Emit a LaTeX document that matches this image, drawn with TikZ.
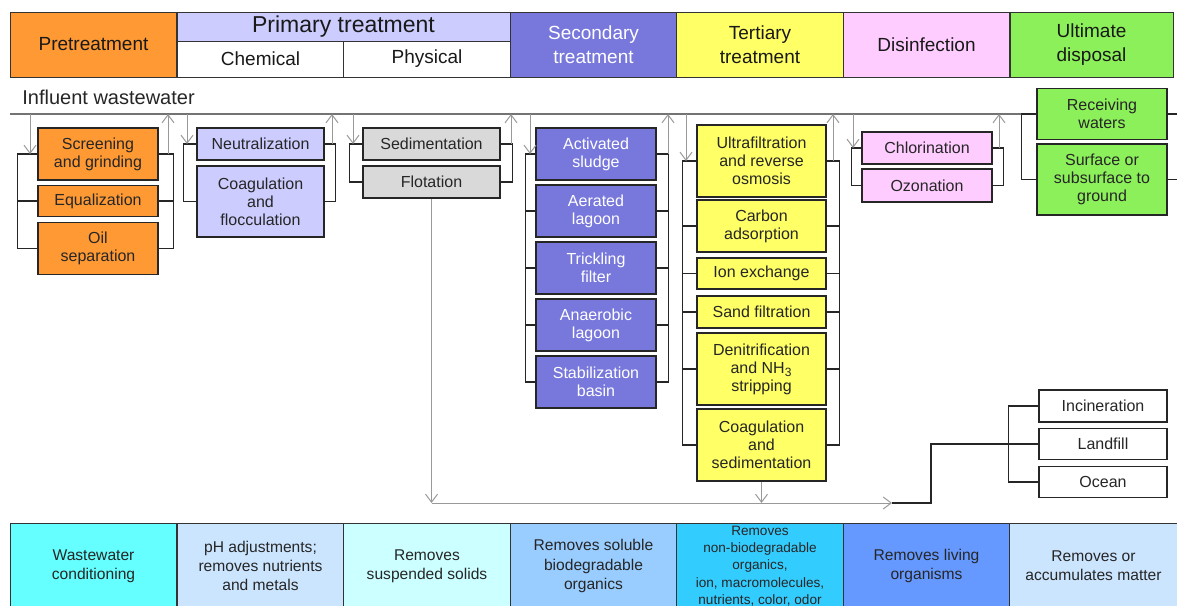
\documentclass[tikz,border=0pt]{standalone}
\usepackage{fontspec}
\setmainfont{Liberation Sans}
\usetikzlibrary{arrows.meta}

\definecolor{orng}{HTML}{FF9933}
\definecolor{lavd}{HTML}{CCCCFF}
\definecolor{gryb}{HTML}{D9D9D9}
\definecolor{purp}{HTML}{7878DC}
\definecolor{yelw}{HTML}{FFFF66}
\definecolor{pink}{HTML}{FFCCFF}
\definecolor{gren}{HTML}{8CF05A}
\definecolor{rcyan}{HTML}{66FFFF}
\definecolor{rpale}{HTML}{CCE5FF}
\definecolor{rlcyn}{HTML}{CCFFFF}
\definecolor{rsky}{HTML}{99CCFF}
\definecolor{rdeep}{HTML}{33CCFF}
\definecolor{rblue}{HTML}{6699FF}

\begin{document}
\begin{tikzpicture}[x=0.5pt,y=-0.5pt]
	\tikzset{hdr/.style = {draw=black!80, line width=0.5pt, align=center,
			inner sep=0pt, text=black!90, minimum width=83.3pt,
			font=\fontsize{9.5}{12}\selectfont}}
	\tikzset{res/.style = {hdr, minimum height=43pt, text=black!85,
			font=\fontsize{7.8}{9.6}\selectfont}}
	\tikzset{box/.style = {draw=black!85, line width=0.7pt, align=center,
			inner sep=0pt, text=black!85, font=\fontsize{8}{9}\selectfont}}
	\tikzset{preBox/.style = {box, fill=orng, minimum width=60pt}}
	\tikzset{chemBox/.style = {box, fill=lavd, minimum width=63.5pt}}
	\tikzset{physBox/.style = {box, fill=gryb, minimum width=68.5pt}}
	\tikzset{secBox/.style = {box, fill=purp, text=white, minimum width=60pt,
			minimum height=26pt}}
	\tikzset{terBox/.style = {box, fill=yelw, minimum width=64.5pt}}
	\tikzset{disBox/.style = {box, fill=pink, minimum width=65pt}}
	\tikzset{ultBox/.style = {box, fill=gren, minimum width=65pt}}
	\tikzset{sldBox/.style = {box, fill=white, minimum width=64pt}}
	\tikzset{brk/.style = {draw=black!85, line width=0.6pt}}
	\tikzset{main/.style = {draw=black!55, line width=0.9pt}}
	\tikzset{flow/.style = {draw=black!40, line width=0.5pt,
			-{Straight Barb[length=4pt,width=6pt]}}}

	\fill[white] (0,0) rectangle (1177,605);
	\useasboundingbox (0,0) rectangle (1177,605);
	\clip (0,0) rectangle (1177,605);

	% header row
	\node[hdr, fill=orng, minimum height=32.5pt] (hPre) at (93.5,44.5) {Pretreatment};
	\node[hdr, fill=lavd, minimum width=166.5pt, minimum height=14.5pt,
		font=\fontsize{11.5}{13}\selectfont] (hPri) at (343.5,26.5) {Primary treatment};
	\node[hdr, fill=white, minimum height=18pt] (hChe) at (260.5,59) {Chemical};
	\node[hdr, fill=white, minimum height=18pt] (hPhy) at (427,59) {Physical};
	\node[hdr, fill=purp, text=white, minimum height=32.5pt] (hSec) at (593.5,44.5) {Secondary\\treatment};
	\node[hdr, fill=yelw, minimum height=32.5pt] (hTer) at (760,44.5) {Tertiary\\treatment};
	\node[hdr, fill=pink, minimum height=32.5pt] (hDis) at (926.5,44.5) {Disinfection};
	\node[hdr, fill=gren, minimum width=81.5pt, minimum height=32.5pt] (hUlt) at (1091.5,44.5) {Ultimate\\disposal};

	% influent line
	\node[anchor=west, inner sep=0pt, text=black!85,
		font=\fontsize{10}{12}\selectfont] (infl) at (22,97) {Influent wastewater};
	\coordinate (inL) at (10,114);
	\coordinate (inR) at (1022,114);
	\draw[main] (inL) -- (inR);

	% units
	\node[preBox, minimum height=26pt] (scr) at (98,154) {Screening\\and grinding};
	\node[preBox, minimum height=15.5pt] (equ) at (98,201) {Equalization};
	\node[preBox, minimum height=26pt] (oil) at (98,248.5) {Oil\\separation};

	\node[chemBox, minimum height=16pt] (neu) at (260.5,144) {Neutralization};
	\node[chemBox, minimum height=35.5pt] (cof) at (260.5,201.5) {Coagulation\\and\\flocculation};

	\node[physBox, minimum height=16pt] (sed) at (431.5,144) {Sedimentation};
	\node[physBox, minimum height=16pt] (flo) at (431.5,182) {Flotation};

	\node[secBox] (act) at (596,154) {Activated\\sludge};
	\node[secBox] (aer) at (596,211) {Aerated\\lagoon};
	\node[secBox] (trf) at (596,268) {Trickling\\filter};
	\node[secBox] (ana) at (596,325) {Anaerobic\\lagoon};
	\node[secBox] (stb) at (596,382) {Stabilization\\basin};

	\node[terBox, minimum height=36pt] (ufr) at (761.5,161) {Ultrafiltration\\and reverse\\osmosis};
	\node[terBox, minimum height=26pt] (cad) at (761.5,226) {Carbon\\adsorption};
	\node[terBox, minimum height=15.5pt] (iex) at (761.5,273.5) {Ion exchange};
	\node[terBox, minimum height=16pt] (snd) at (761.5,312) {Sand filtration};
	\node[terBox, minimum height=36pt] (den) at (761.5,369) {Denitrification\\and NH\textsubscript{3}\\stripping};
	\node[terBox, minimum height=36pt] (cse) at (761.5,445) {Coagulation\\and\\sedimentation};

	\node[disBox, minimum height=16pt] (chl) at (927,148) {Chlorination};
	\node[disBox, minimum height=16.5pt] (ozo) at (927,185.5) {Ozonation};

	\node[ultBox, minimum height=25.5pt] (rcv) at (1102,114) {Receiving\\waters};
	\node[ultBox, minimum height=35.5pt] (sur) at (1102,179.5) {Surface or\\subsurface to\\ground};

	\node[sldBox, minimum height=16pt] (inc) at (1103,406) {Incineration};
	\node[sldBox, minimum height=15.5pt] (lnd) at (1103,444) {Landfill};
	\node[sldBox, minimum height=15.5pt] (ocn) at (1103,482) {Ocean};

	% brackets
	\draw[brk] (scr.west) -- ++(-20,0) |- (oil.west);
	\draw[brk] (equ.west) -- ++(-20,0);
	\draw[brk] (scr.east) -- ++(15,0) |- (oil.east);
	\draw[brk] (equ.east) -- ++(15,0);

	\draw[brk] (neu.west) -- ++(-13,0) |- (cof.west);
	\draw[brk] (neu.east) -- ++(11,0) |- (cof.east);

	\draw[brk] (sed.west) -- ++(-13,0) |- (flo.west);
	\draw[brk] (sed.east) -- ++(12,0) |- (flo.east);

	\draw[brk] (act.west) -- ++(-10,0) |- (stb.west);
	\draw[brk] (aer.west) -- ++(-10,0);
	\draw[brk] (trf.west) -- ++(-10,0);
	\draw[brk] (ana.west) -- ++(-10,0);
	\draw[brk] (act.east) -- ++(12,0) |- (stb.east);
	\draw[brk] (aer.east) -- ++(12,0);
	\draw[brk] (trf.east) -- ++(12,0);
	\draw[brk] (ana.east) -- ++(12,0);

	\draw[brk] (ufr.west) -- ++(-14,0) |- (cse.west);
	\draw[brk] (cad.west) -- ++(-14,0);
	\draw[brk] (iex.west) -- ++(-14,0);
	\draw[brk] (snd.west) -- ++(-14,0);
	\draw[brk] (den.west) -- ++(-14,0);
	\draw[brk] (ufr.east) -- ++(13,0) |- (cse.east);
	\draw[brk] (cad.east) -- ++(13,0);
	\draw[brk] (iex.east) -- ++(13,0);
	\draw[brk] (snd.east) -- ++(13,0);
	\draw[brk] (den.east) -- ++(13,0);

	\draw[brk] (chl.west) -- ++(-10,0) |- (ozo.west);
	\draw[brk] (chl.east) -- ++(11,0) |- (ozo.east);

	\draw[brk] (rcv.west) -- ++(-15,0) |- (sur.west);
	\draw[brk] (rcv.east) -- ++(12,0);
	\draw[brk] (sur.east) -- ++(12,0);

	% in and out of each stage
	\coordinate (d1) at (30,114);
	\coordinate (u1) at (168,114);
	\coordinate (d2) at (187,114);
	\coordinate (u2) at (332,114);
	\coordinate (d3) at (353,114);
	\coordinate (u3) at (511,114);
	\coordinate (d4) at (530,114);
	\coordinate (u4) at (668,114);
	\coordinate (d5) at (686,114);
	\coordinate (u5) at (833,114);
	\coordinate (d6) at (853,114);
	\coordinate (u6) at (999,114);

	\draw[flow] (d1) -- (d1 |- scr.west);
	\draw[flow] (u1 |- scr.east) -- (u1);
	\draw[flow] (d2) -- (d2 |- neu.west);
	\draw[flow] (u2 |- neu.east) -- (u2);
	\draw[flow] (d3) -- (d3 |- sed.west);
	\draw[flow] (u3 |- sed.east) -- (u3);
	\draw[flow] (d4) -- (d4 |- act.west);
	\draw[flow] (u4 |- act.east) -- (u4);
	\draw[flow] (d5) -- (d5 |- ufr.west);
	\draw[flow] (u5 |- ufr.east) -- (u5);
	\draw[flow] (d6) -- (d6 |- chl.west);
	\draw[flow] (u6 |- chl.east) -- (u6);

	% sludge to disposal
	\coordinate (sludge) at (892,503);
	\draw[flow] (flo.south) -- (flo.south |- sludge);
	\draw[flow] (flo.south |- sludge) -- (sludge);
	\draw[flow] (cse.south) -- (cse.south |- sludge);
	\draw[brk] (sludge) -- ++(39,0) |- (lnd.west);
	\draw[brk] (inc.west) -- ++(-30,0) |- (ocn.west);

	% results row
	\node[res, fill=rcyan] (rPre) at (93.5,566) {Wastewater\\conditioning};
	\node[res, fill=rpale] (rChe) at (260.5,566) {pH adjustments;\\removes nutrients\\and metals};
	\node[res, fill=rlcyn] (rPhy) at (427,566) {Removes\\suspended solids};
	\node[res, fill=rsky] (rSec) at (593.5,566) {Removes soluble\\biodegradable\\organics};
	\node[res, fill=rdeep, font=\fontsize{6.8}{8.7}\selectfont] (rTer) at (760,566)
		{Removes\\non-biodegradable\\organics,\\ion, macromolecules,\\nutrients, color, odor};
	\node[res, fill=rblue] (rDis) at (926.5,566) {Removes living\\organisms};
	\node[res, fill=rpale, minimum width=84pt] (rUlt) at (1093.5,566) {Removes or\\accumulates matter};
\end{tikzpicture}
\end{document}
